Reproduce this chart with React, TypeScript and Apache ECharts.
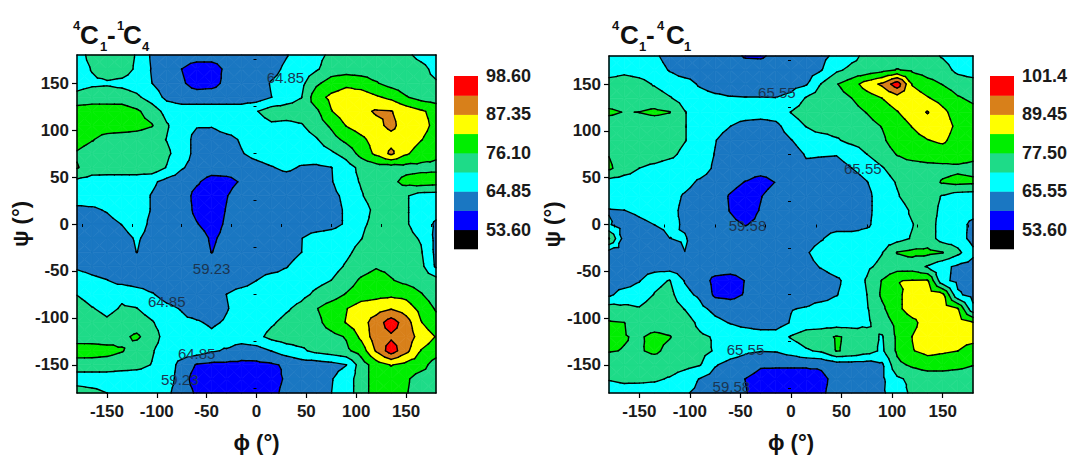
import React, { useEffect, useRef } from 'react';
import * as echarts from 'echarts';

const FONT = 'Arial, "Liberation Sans", Helvetica, sans-serif';

// grid nodes (degrees)
const PHI = [-180, -165, -150, -135, -120, -105, -90, -75, -60, -45, -30, -15, 0, 15, 30, 45, 60, 75, 90, 105, 120, 135, 150, 165, 180];
const PSI = [180, 165, 150, 135, 120, 105, 90, 75, 60, 45, 30, 15, 0, -15, -30, -45, -60, -75, -90, -105, -120, -135, -150, -165, -180];

const X_MAJOR = [-150, -100, -50, 0, 50, 100, 150];
const X_MINOR = [-175, -125, -75, -25, 25, 75, 125, 175];
const Y_MAJOR = [-150, -100, -50, 0, 50, 100, 150];
const Y_MINOR = [-175, -125, -75, -25, 25, 75, 125, 175];

const LEFT_LEVELS = [53.6, 59.23, 64.85, 70.48, 76.1, 81.73, 87.35, 92.98, 98.6];
const RIGHT_LEVELS = [53.6, 59.58, 65.55, 71.53, 77.5, 83.48, 89.45, 95.43, 101.4];

// band colours, from below the lowest level to above the highest
const BAND_COLORS = ['#000000', '#0000FF', '#1A77C2', '#00FFFF', '#1EDB88', '#00EE00', '#FFFF00', '#D8801A', '#FF0000', '#FF0000'];

// 4C1-1C4 energy surface, rows psi = 180 .. -180, columns phi = -180 .. 180
const LEFT_GRID = [
  [67.7, 72.5, 73.3, 73.3, 70.0, 64.0, 62, 62, 62, 62, 62, 62, 62, 62, 64.5, 67.7, 69, 71.5, 73.3, 73.3, 73.3, 73.3, 71.5, 69, 67.7],
  [67.7, 70.8, 73.3, 73.3, 69.5, 64.5, 62, 59.2, 56.4, 56.4, 60.5, 62, 62, 63, 66, 67.7, 69.8, 73.3, 73.3, 73.3, 73.3, 73.3, 73.3, 72, 69],
  [68.5, 69.5, 69.8, 69, 67.7, 64.9, 62, 60, 57, 57.5, 60.5, 62, 62, 65.3, 67, 69, 75.0, 78.5, 80.5, 79, 76.5, 74, 73, 72, 71],
  [72, 73.3, 73.3, 73.3, 71.5, 68, 63.5, 62, 62, 62, 62, 62, 62, 64.8, 67.7, 70.3, 79.5, 83, 84.5, 85, 82.5, 80.5, 76.5, 74, 73],
  [79, 79, 79, 78.9, 77, 73.5, 68.5, 67.7, 67.7, 67.7, 67.7, 67.7, 70.2, 73.3, 73.3, 73.3, 75, 81.5, 85, 86, 87.9, 87.6, 85, 82.5, 80],
  [79, 79, 79, 78.9, 78, 76.5, 71, 67, 65.3, 65.3, 67.7, 67.7, 67.7, 69.5, 69, 70, 73.3, 77, 82, 84.5, 86, 88.6, 85, 84, 80],
  [78.5, 76.5, 74, 73.3, 73.3, 72.5, 70.3, 67.7, 63, 62, 63, 65.5, 67.7, 67.7, 67.7, 67.7, 70, 74, 77.5, 80.5, 84, 85.5, 85, 82, 79],
  [75.5, 73.3, 73.3, 73.3, 73.3, 73.3, 71.5, 67.7, 63, 62, 62, 64.5, 66.5, 67.7, 67.7, 67.7, 67.7, 69.5, 72.5, 78, 83, 88.5, 82.5, 79, 77],
  [76.5, 73.3, 73.3, 73.3, 73.3, 74, 70.2, 65.3, 63, 62, 62, 62, 63, 64.5, 66, 64.3, 64, 64.7, 68, 72, 73.3, 73.3, 74, 74.5, 75],
  [69, 68, 67.7, 67.7, 67.7, 66, 63, 62, 60, 57, 57.5, 59.8, 62, 62, 62, 62, 62.5, 64.5, 68, 71, 73.3, 74.5, 78, 79, 78.5],
  [68, 67.7, 67.7, 67.7, 67.7, 64.5, 62, 62, 57.5, 56.4, 59.0, 62, 62, 62, 62, 62, 62, 63.5, 66, 70, 73.3, 73.3, 71, 68, 67.7],
  [63.5, 64, 65.3, 67.7, 67.7, 64.5, 62, 62, 58, 56.4, 59.5, 62, 62, 62, 62, 62, 62, 63, 65.5, 68, 72, 73.3, 71, 68, 67],
  [62, 62, 63, 65, 67.7, 63.5, 62, 62, 59.5, 57, 60, 62, 62, 62, 62, 62, 62, 63, 65.5, 69.5, 72, 73.3, 71, 68, 64],
  [63, 62, 62, 63, 65.5, 63, 62, 62, 62, 58.5, 60.5, 62, 62, 62, 62, 64.7, 67, 67.7, 68.5, 70.3, 73.3, 73.3, 72, 70, 63.5],
  [63, 62, 62, 62, 64.95, 62, 62, 62, 62, 59.1, 61, 62, 62, 62, 62, 64.8, 67.7, 67.7, 69.5, 72, 73.3, 73.3, 73.3, 71, 63.5],
  [64, 63, 62, 62, 62, 62, 62, 62, 62, 62, 62, 62, 62, 62, 64.5, 67.7, 67.7, 68.5, 71, 73.3, 75.5, 74.5, 73.3, 72, 64],
  [67.5, 66, 65, 63, 62, 62, 62, 62, 62, 62, 62, 62.5, 64.8, 67.7, 67.7, 67.7, 69, 70.5, 73.3, 77, 79, 76.5, 74.5, 73.3, 72.5],
  [70.3, 68, 67.7, 69.5, 67.7, 65.3, 63, 62, 62, 62, 64.9, 67, 67.7, 67.7, 67.7, 69, 71.5, 73.3, 76.5, 79, 80, 80.5, 80, 76.5, 73],
  [73.3, 70.8, 69, 71, 70.6, 68, 66, 64.5, 62, 62, 64.5, 67, 67.7, 67.7, 69.8, 72, 75.8, 79, 81.5, 84.5, 85, 87, 84.5, 80, 75.5],
  [73.3, 73.3, 71.5, 73.3, 73.3, 71, 67.7, 66, 65.5, 64, 65.5, 67.7, 67.7, 69.8, 72, 73.3, 74.5, 78.5, 82, 85, 90, 96, 90, 82, 78],
  [73.3, 73.3, 73.3, 75, 77, 73.3, 68, 67.7, 67.7, 66, 67.7, 67.7, 69, 72, 73.3, 73.3, 73.3, 74.5, 76.5, 83, 90.5, 92, 90.5, 85, 81.5],
  [79, 78.9, 78, 76.5, 73.3, 71, 67.7, 67.7, 67.7, 65.5, 64.3, 62, 62.5, 65.0, 67.7, 69.5, 72, 73.3, 75, 78.5, 88, 96, 89, 81.5, 79],
  [73.3, 73.3, 73.3, 72.5, 72, 70.3, 67.7, 63, 58.8, 58, 58, 58, 58, 58.5, 60, 62, 62, 63, 64.7, 73.3, 78.9, 82, 80, 78.5, 73.3],
  [67.7, 67.7, 67.7, 67.7, 67.7, 67.7, 67.7, 62, 56.4, 56.4, 56.4, 56.4, 56.4, 57, 60, 62, 62, 64.5, 67.7, 73.3, 78.9, 78.9, 77, 73.3, 73.3],
  [73.3, 72, 70.5, 67.7, 67.7, 67.7, 66, 62, 58.5, 56.4, 56.4, 56.4, 56.4, 57.5, 61, 62, 62, 64.8, 67.7, 73.3, 78.9, 78.5, 76.5, 73.3, 73.3],
];

// 4C1-4C1 energy surface
const RIGHT_GRID = [
  [68, 68.5, 68, 66.5, 63.5, 62.6, 62.6, 62.6, 61.5, 59.0, 58.8, 61, 62.6, 62.6, 64, 67, 70, 73, 74.5, 74.5, 74.5, 73.5, 71, 68.5, 68],
  [68, 70, 69, 68, 65.2, 62.6, 62.6, 62.6, 62.6, 62.6, 62.6, 62.6, 62.6, 62.6, 65.3, 70.5, 73, 73.5, 75.5, 77.8, 76.5, 75, 74, 70, 68],
  [74.5, 74.5, 73.5, 71, 68.5, 68, 64.8, 62.6, 62.6, 62.6, 62.6, 62.6, 63.5, 65, 71.8, 77.2, 80.5, 86.5, 90.5, 99, 83, 79.5, 77.3, 75, 74.5],
  [74.5, 74.5, 74.5, 74.5, 72, 69, 68, 67, 66, 65.8, 65.8, 65.7, 67, 72, 74.5, 75.5, 77.5, 80.5, 83.5, 86.5, 87, 84, 81, 78, 76.5],
  [78.5, 77.3, 77.6, 78.5, 77.7, 71.8, 68.5, 68.5, 68.5, 68.5, 68.5, 68.5, 71.7, 74.5, 74.5, 74.5, 75.5, 77.7, 80.5, 83.2, 86.5, 89.8, 85, 80.5, 79],
  [74.5, 74.5, 74.5, 74.5, 74.5, 71.8, 68.5, 68, 65.6, 63.5, 62.6, 64, 68.5, 71.7, 74.5, 74.5, 74.5, 75.5, 77.7, 80.5, 83.7, 86.5, 86.5, 82, 80],
  [74.5, 74.5, 74.5, 74.5, 74.5, 71.8, 68.5, 65.8, 62.6, 62.6, 62.6, 62.6, 65.3, 68.5, 68.5, 70.8, 73.5, 74.5, 76.5, 80.5, 81.5, 83.3, 84.5, 81, 79],
  [77.3, 74.5, 74.5, 74.5, 73, 70, 68.5, 65.3, 62.6, 62.6, 62.6, 62.6, 63, 66, 65.8, 65.7, 67, 71.5, 74.5, 77.8, 80, 80.5, 80.5, 80, 79],
  [78.5, 74.5, 71.5, 70, 68.5, 68.5, 68.5, 64.5, 62.6, 62.6, 62.6, 62.6, 62.6, 64.5, 64.5, 64.3, 65.5, 68, 71, 74.5, 74.5, 75.5, 76, 76.5, 76],
  [69, 68.5, 68.5, 68.5, 68.5, 67.5, 64.5, 62.6, 61.5, 59.3, 57, 59.8, 62.6, 62.6, 62.6, 62.6, 62.6, 65.3, 68.5, 72, 74.5, 75, 78, 79, 78.5],
  [67.5, 68.5, 68.5, 68.5, 68, 64.8, 62.6, 62.6, 59.0, 56.6, 59.3, 62.6, 62.6, 62.6, 62.6, 62.6, 62.6, 64, 68.5, 71, 74.5, 74.5, 71, 68.5, 68],
  [65.3, 65.5, 66.5, 67.5, 67.5, 64, 62.6, 62.6, 59.3, 56.6, 60, 62.6, 62.6, 62.6, 62.6, 62.6, 62.6, 64, 68.5, 68.5, 72.5, 74.5, 70, 68.5, 68],
  [66, 63, 64.5, 65.6, 67, 64.8, 62.6, 62.6, 61, 59.3, 61, 62.6, 62.6, 62.6, 62.6, 62.6, 62.6, 64.5, 68.5, 69.5, 71.3, 74.5, 69, 68, 64],
  [78, 63, 62.6, 62.6, 65.5, 66, 62.6, 62.6, 62.6, 62.6, 62.6, 62.6, 62.6, 62.6, 65, 68.5, 68.5, 68.5, 68.5, 69.5, 72, 74.5, 69, 68.5, 63.5],
  [63, 62.6, 62.6, 62.6, 63.5, 65.5, 64.8, 62.6, 62.6, 62.6, 62.6, 62.6, 62.6, 64.8, 68.5, 68.5, 68.5, 68.5, 71.3, 77.8, 79, 79, 77.7, 73, 67],
  [62.6, 62.6, 62.6, 62.6, 62.6, 62.6, 62.6, 62.6, 62.6, 62.6, 62.6, 62.6, 62.6, 63.5, 66, 68.5, 68.5, 70.5, 73, 74.5, 74.5, 71, 67, 64.5, 63],
  [63, 62.6, 65.2, 70, 71.8, 65.2, 62.6, 58, 57, 59.8, 62.6, 62.6, 62.6, 62.6, 62.6, 64.5, 68, 72, 77.8, 83.3, 83.8, 84, 67, 64, 63],
  [64.5, 68, 68.5, 71.8, 73.5, 67, 64.5, 58.5, 58, 60, 62.6, 62.6, 62.6, 62.6, 62.6, 65.3, 68, 71.5, 78.5, 82, 86.5, 86.5, 85, 66.5, 63.5],
  [74.5, 73, 72, 74.5, 74.5, 71.3, 67, 64, 62.6, 62.6, 62.6, 62.6, 65.3, 66, 68.5, 68.5, 68.5, 71, 76.3, 82, 86.5, 86.5, 86.5, 83.8, 67],
  [78, 77.6, 74.5, 74.5, 74.5, 74.5, 70, 67, 65.3, 64, 62.6, 62.6, 66, 68.5, 68.5, 68.5, 68.5, 70.5, 74.5, 79, 81.8, 86.5, 86.5, 86.5, 84],
  [78.5, 77.8, 76.8, 79, 77.8, 74.5, 72.5, 71, 68.5, 68.5, 68.5, 68.5, 72, 74.5, 75.5, 78, 76.5, 73.5, 71, 78.5, 83.6, 86.5, 86.5, 86.5, 86.5],
  [77.8, 77.3, 77, 78.5, 76, 74.5, 73.5, 71, 68.5, 66.5, 65.8, 66, 68, 70.8, 72.5, 77.8, 76.5, 74, 70.5, 78.5, 83.2, 85, 84.2, 83.5, 80],
  [74.5, 74.5, 74.5, 74.5, 74.5, 73.5, 71.8, 66, 63.5, 62.6, 60.3, 60.3, 60.3, 60.3, 60.3, 62.6, 62.6, 62.6, 64.5, 76, 78.5, 80.5, 80.5, 79.5, 77.8],
  [72, 73, 73, 72.5, 71, 68, 65.3, 63, 62, 59.5, 57.5, 57, 57, 57, 58.5, 61, 62.5, 63, 64.5, 70.5, 73, 73.5, 73.5, 73.3, 73],
  [67.7, 68.5, 68, 68, 67, 66, 64.5, 62, 61, 59.8, 58, 57.5, 57.5, 57.8, 59, 61, 62, 63.5, 64.8, 68, 73, 73.3, 73.3, 73, 72.5],
];

// contour labels: position (phi, psi) and the level index they mark
const LEFT_LABELS = [
  { phi: 29, psi: 156, k: 2 },
  { phi: -45, psi: -47, k: 1 },
  { phi: -90, psi: -83, k: 2 },
  { phi: -60, psi: -138, k: 2 },
  { phi: -77, psi: -166, k: 1 },
];
const RIGHT_LABELS = [
  { phi: -14, psi: 141, k: 2 },
  { phi: 71, psi: 60, k: 2 },
  { phi: -43, psi: -1, k: 1 },
  { phi: -45, psi: -134, k: 2 },
  { phi: -59, psi: -173, k: 1 },
];

type P = { x: number; y: number; v: number };

function clipHalf(poly: P[], t: number, keepAbove: boolean): P[] {
  const out: P[] = [];
  const n = poly.length;
  for (let k = 0; k < n; k++) {
    const a = poly[k];
    const b = poly[(k + 1) % n];
    const ina = keepAbove ? a.v >= t : a.v <= t;
    const inb = keepAbove ? b.v >= t : b.v <= t;
    if (ina) out.push(a);
    if (ina !== inb) {
      const s = (t - a.v) / (b.v - a.v);
      out.push({ x: a.x + s * (b.x - a.x), y: a.y + s * (b.y - a.y), v: t });
    }
  }
  return out;
}

function cellTriangles(grid: number[][], i: number, j: number): P[][] {
  const a = { x: PHI[i], y: PSI[j], v: grid[j][i] };
  const b = { x: PHI[i + 1], y: PSI[j], v: grid[j][i + 1] };
  const c = { x: PHI[i + 1], y: PSI[j + 1], v: grid[j + 1][i + 1] };
  const d = { x: PHI[i], y: PSI[j + 1], v: grid[j + 1][i] };
  const m = { x: (a.x + b.x) / 2, y: (a.y + d.y) / 2, v: (a.v + b.v + c.v + d.v) / 4 };
  return [[a, b, m], [b, c, m], [c, d, m], [d, a, m]];
}

function fillRenderer(grid: number[][], levels: number[]) {
  return (params: any, api: any) => {
    const i = api.value(2);
    const j = api.value(3);
    const children: any[] = [];
    for (const tri of cellTriangles(grid, i, j)) {
      const vmin = Math.min(tri[0].v, tri[1].v, tri[2].v);
      const vmax = Math.max(tri[0].v, tri[1].v, tri[2].v);
      for (let b = 0; b <= levels.length; b++) {
        const lo = b === 0 ? -Infinity : levels[b - 1];
        const hi = b === levels.length ? Infinity : levels[b];
        if (vmax < lo || vmin > hi) continue;
        let poly: P[] = tri;
        if (isFinite(lo)) poly = clipHalf(poly, lo, true);
        if (poly.length >= 3 && isFinite(hi)) poly = clipHalf(poly, hi, false);
        if (poly.length < 3) continue;
        const pts = poly.map((p) => api.coord([p.x, p.y]));
        children.push({
          type: 'polygon',
          shape: { points: pts },
          style: { fill: BAND_COLORS[b], stroke: BAND_COLORS[b], lineWidth: 0.7 },
          silent: true,
        });
      }
    }
    return { type: 'group', children };
  };
}

function lineRenderer(grid: number[][], levels: number[]) {
  return (params: any, api: any) => {
    const i = api.value(2);
    const j = api.value(3);
    const children: any[] = [];
    for (const tri of cellTriangles(grid, i, j)) {
      for (const L of levels) {
        const pts: number[][] = [];
        for (let k = 0; k < 3; k++) {
          const a = tri[k];
          const b = tri[(k + 1) % 3];
          if ((a.v < L) !== (b.v < L)) {
            const s = (L - a.v) / (b.v - a.v);
            pts.push(api.coord([a.x + s * (b.x - a.x), a.y + s * (b.y - a.y)]));
          }
        }
        if (pts.length === 2) {
          children.push({
            type: 'line',
            shape: { x1: pts[0][0], y1: pts[0][1], x2: pts[1][0], y2: pts[1][1] },
            style: { stroke: '#000', lineWidth: 1.4, lineCap: 'round' },
            silent: true,
          });
        }
      }
    }
    return { type: 'group', children };
  };
}

function labelRenderer(labels: { phi: number; psi: number; k: number }[], levels: number[]) {
  return (params: any, api: any) => {
    const idx = api.value(2);
    const l = labels[idx];
    const p = api.coord([l.phi, l.psi]);
    return {
      type: 'text',
      x: p[0],
      y: p[1],
      style: {
        text: levels[l.k].toPrecision(4),
        fill: '#1b3552',
        fontSize: 15,
        fontFamily: FONT,
        align: 'center',
        verticalAlign: 'middle',
        textAlign: 'center',
        textVerticalAlign: 'middle',
      },
      silent: true,
    };
  };
}

const CELLS: number[][] = [];
for (let j = 0; j < PSI.length - 1; j++) {
  for (let i = 0; i < PHI.length - 1; i++) {
    CELLS.push([(PHI[i] + PHI[i + 1]) / 2, (PSI[j] + PSI[j + 1]) / 2, i, j]);
  }
}

const tickLabel = { fontSize: 17, fontWeight: 'bold', color: '#1a1a1a', fontFamily: FONT };
const nameStyle = { fontSize: 22, fontWeight: 'bold', color: '#111', fontFamily: FONT };
const frameLine = { show: true, onZero: false, lineStyle: { color: '#000', width: 1.5 } };

function axesFor(g: number) {
  const x = [
    {
      gridIndex: g, type: 'value', min: -180, max: 180, position: 'bottom', z: 10,
      axisLine: frameLine,
      axisTick: { show: true, customValues: X_MAJOR, length: 5, lineStyle: { color: '#000', width: 1.2 } },
      axisLabel: { show: true, customValues: X_MAJOR, margin: 10, ...tickLabel },
      splitLine: { show: false },
      name: 'ϕ (°)', nameLocation: 'middle', nameGap: 38, nameTextStyle: nameStyle,
    },
    {
      gridIndex: g, type: 'value', min: -180, max: 180, position: 'bottom', z: 10,
      axisLine: { show: false },
      axisTick: { show: true, customValues: X_MINOR, length: 3, lineStyle: { color: '#000', width: 1 } },
      axisLabel: { show: false },
      splitLine: { show: false },
    },
    {
      gridIndex: g, type: 'value', min: -180, max: 180, position: 'top', z: 10,
      axisLine: frameLine, axisTick: { show: false }, axisLabel: { show: false }, splitLine: { show: false },
    },
  ];
  const y = [
    {
      gridIndex: g, type: 'value', min: -180, max: 180, position: 'left', z: 10,
      axisLine: frameLine,
      axisTick: { show: true, customValues: Y_MAJOR, length: 5, lineStyle: { color: '#000', width: 1.2 } },
      axisLabel: { show: true, customValues: Y_MAJOR, margin: 8, ...tickLabel },
      splitLine: { show: false },
      name: 'ψ (°)', nameLocation: 'middle', nameGap: 44, nameRotate: 90, nameTextStyle: nameStyle,
    },
    {
      gridIndex: g, type: 'value', min: -180, max: 180, position: 'left', z: 10,
      axisLine: { show: false },
      axisTick: { show: true, customValues: Y_MINOR, length: 3, lineStyle: { color: '#000', width: 1 } },
      axisLabel: { show: false },
      splitLine: { show: false },
    },
    {
      gridIndex: g, type: 'value', min: -180, max: 180, position: 'right', z: 10,
      axisLine: frameLine, axisTick: { show: false }, axisLabel: { show: false }, splitLine: { show: false },
    },
  ];
  return { x, y };
}

function seriesFor(g: number, grid: number[][], levels: number[], labels: any[]) {
  const xi = g * 3;
  const yi = g * 3;
  return [
    {
      type: 'custom', coordinateSystem: 'cartesian2d', xAxisIndex: xi, yAxisIndex: yi,
      renderItem: fillRenderer(grid, levels), data: CELLS, encode: { x: 0, y: 1 }, z: 1, silent: true,
    },
    {
      type: 'custom', coordinateSystem: 'cartesian2d', xAxisIndex: xi, yAxisIndex: yi,
      renderItem: lineRenderer(grid, levels), data: CELLS, encode: { x: 0, y: 1 }, z: 3, silent: true,
    },
    {
      type: 'custom', coordinateSystem: 'cartesian2d', xAxisIndex: xi, yAxisIndex: yi,
      renderItem: labelRenderer(labels, levels),
      data: labels.map((l: any, n: number) => [l.phi, l.psi, n]), encode: { x: 0, y: 1 }, z: 4, silent: true,
    },
  ];
}

function colorBar(x: number, levels: number[]) {
  const top = 76;
  const h = 19.2;
  const els: any[] = [];
  for (let b = 0; b < 9; b++) {
    els.push({
      type: 'rect',
      shape: { x, y: top + (8 - b) * h, width: 24, height: h + 0.5 },
      style: { fill: BAND_COLORS[b] },
    });
  }
  for (let k = 0; k < levels.length; k += 2) {
    els.push({
      type: 'text',
      x: x + 32,
      y: top + (8 - k) * h,
      style: {
        text: levels[k].toPrecision(4), fontSize: 18, fontWeight: 'bold', fontFamily: FONT, fill: '#1a1a1a',
        align: 'left', verticalAlign: 'middle', textAlign: 'left', textVerticalAlign: 'middle',
      },
    });
  }
  return els;
}

function titleParts(parts: { t: string; x: number; kind: string }[]) {
  return parts.map((p) => {
    const big = p.kind === 'big';
    const y = p.kind === 'sup' ? 25 : p.kind === 'sub' ? 46 : 35;
    return {
      type: 'text',
      x: p.x,
      y,
      style: {
        text: p.t, fontSize: big ? 26 : 13, fontWeight: 'bold', fontFamily: FONT, fill: '#111',
        align: 'left', verticalAlign: 'middle', textAlign: 'left', textVerticalAlign: 'middle',
      },
    };
  });
}

function buildOption() {
  const a0 = axesFor(0);
  const a1 = axesFor(1);
  return {
    animation: false,
    backgroundColor: '#ffffff',
    grid: [
      { left: 77, top: 55, width: 359, height: 338, show: false },
      { left: 609, top: 56, width: 364, height: 337, show: false },
    ],
    xAxis: [...a0.x, ...a1.x],
    yAxis: [...a0.y, ...a1.y],
    series: [
      ...seriesFor(0, LEFT_GRID, LEFT_LEVELS, LEFT_LABELS),
      ...seriesFor(1, RIGHT_GRID, RIGHT_LEVELS, RIGHT_LABELS),
    ],
    graphic: [
      ...colorBar(454, LEFT_LEVELS),
      ...colorBar(990, RIGHT_LEVELS),
      ...titleParts([
        { t: '4', x: 73, kind: 'sup' },
        { t: 'C', x: 80, kind: 'big' },
        { t: '1', x: 100, kind: 'sub' },
        { t: '-', x: 107, kind: 'big' },
        { t: '1', x: 117, kind: 'sup' },
        { t: 'C', x: 123, kind: 'big' },
        { t: '4', x: 142, kind: 'sub' },
      ]),
      ...titleParts([
        { t: '4', x: 612, kind: 'sup' },
        { t: 'C', x: 620, kind: 'big' },
        { t: '1', x: 639, kind: 'sub' },
        { t: '-', x: 646, kind: 'big' },
        { t: '4', x: 657, kind: 'sup' },
        { t: 'C', x: 666, kind: 'big' },
        { t: '1', x: 684, kind: 'sub' },
      ]),
    ],
  };
}

export default function App() {
  const ref = useRef<HTMLDivElement>(null);
  useEffect(() => {
    const chart = echarts.init(ref.current as HTMLDivElement, null, { renderer: 'svg' });
    chart.setOption(buildOption() as any);
    return () => chart.dispose();
  }, []);
  return (
    <div
      ref={ref}
      style={{ position: 'fixed', left: 0, top: 0, width: 1073, height: 462, background: '#ffffff' }}
    />
  );
}
